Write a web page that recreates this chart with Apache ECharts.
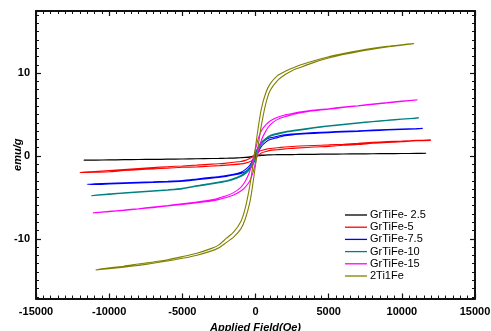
<!DOCTYPE html>
<html><head><meta charset="utf-8">
<script src="https://cdn.jsdelivr.net/npm/echarts@6/dist/echarts.min.js"></script>
<style>html,body{margin:0;padding:0;background:#fff}#c{width:491px;height:331px}</style>
</head><body><div id="c"></div>
<script>
// Field (Oe) grids, ascending; "up" = ascending branch, "down" = descending branch (emu/g)
const fieldBlack = [-11730,-11000,-10000,-9000,-8000,-7000,-6000,-5000,-4000,-3000,-2500,-2000,-1500,-1000,-700,-400,-200,0,200,400,700,1000,1500,2000,2500,3000,4000,5000,6000,7000,8000,9000,10000,11000,11660];
const upBlack   = [-0.52,-0.5,-0.47,-0.46,-0.43,-0.42,-0.39,-0.37,-0.34,-0.31,-0.3,-0.28,-0.26,-0.22,-0.19,-0.14,-0.08,-0.02,0.04,0.08,0.11,0.13,0.15,0.16,0.17,0.18,0.2,0.22,0.24,0.25,0.27,0.28,0.3,0.31,0.33];
const downBlack = [-0.5,-0.49,-0.46,-0.44,-0.42,-0.4,-0.38,-0.36,-0.33,-0.3,-0.29,-0.27,-0.24,-0.2,-0.16,-0.11,-0.04,0.02,0.07,0.1,0.12,0.14,0.16,0.17,0.18,0.19,0.21,0.23,0.24,0.26,0.27,0.29,0.3,0.32,0.34];

const fieldRed = [-12000,-11000,-10000,-9000,-8000,-7000,-6000,-5000,-4000,-3000,-2500,-2000,-1500,-1000,-700,-400,-200,0,200,400,700,1000,1500,2000,2500,3000,4000,5000,6000,7000,8000,9000,10000,11000,11980];
const upRed   = [-2.05,-1.97,-1.9,-1.76,-1.66,-1.55,-1.47,-1.36,-1.32,-1.21,-1.18,-1.1,-1.04,-0.95,-0.86,-0.7,-0.5,-0.2,0.1,0.35,0.55,0.68,0.76,0.86,0.92,0.98,1.08,1.16,1.3,1.38,1.53,1.63,1.73,1.84,1.88];
const downRed = [-2.0,-1.88,-1.76,-1.64,-1.52,-1.4,-1.29,-1.2,-1.1,-0.98,-0.94,-0.86,-0.76,-0.66,-0.53,-0.3,-0.1,0.2,0.5,0.66,0.8,0.9,1.0,1.08,1.15,1.2,1.27,1.34,1.42,1.52,1.64,1.73,1.8,1.88,1.92];

const fieldBlue = [-11500,-11000,-10000,-9000,-8000,-7000,-6000,-5000,-4000,-3000,-2500,-2000,-1500,-1000,-700,-400,-200,0,200,400,700,1000,1500,2000,2500,3000,4000,5000,6000,7000,8000,9000,10000,11000,11430];
const upBlue   = [-3.46,-3.44,-3.38,-3.32,-3.25,-3.2,-3.13,-3.04,-2.86,-2.68,-2.58,-2.47,-2.3,-2.1,-1.9,-1.5,-1.05,-0.35,0.5,1.15,1.68,1.98,2.22,2.44,2.55,2.62,2.73,2.82,2.9,2.97,3.05,3.13,3.2,3.27,3.31];
const downBlue = [-3.42,-3.37,-3.3,-3.24,-3.18,-3.12,-3.05,-2.95,-2.77,-2.58,-2.48,-2.36,-2.2,-1.95,-1.65,-1.15,-0.55,0.35,1.05,1.6,1.98,2.2,2.38,2.56,2.65,2.72,2.82,2.9,2.97,3.04,3.12,3.19,3.25,3.3,3.33];

const fieldTeal = [-11200,-10000,-9000,-8000,-7000,-6000,-5000,-4000,-3000,-2500,-2000,-1500,-1000,-700,-400,-200,0,200,400,700,1000,1500,2000,2500,3000,4000,5000,6000,7000,8000,9000,10000,11160];
const upTeal   = [-4.82,-4.63,-4.5,-4.38,-4.26,-4.13,-3.97,-3.66,-3.39,-3.23,-3.08,-2.84,-2.48,-2.15,-1.65,-1.1,-0.3,0.7,1.38,1.98,2.37,2.63,2.84,2.98,3.11,3.37,3.6,3.78,3.95,4.13,4.28,4.43,4.57];
const downTeal = [-4.78,-4.57,-4.44,-4.32,-4.2,-4.07,-3.9,-3.58,-3.31,-3.13,-2.98,-2.72,-2.35,-1.98,-1.38,-0.7,0.3,1.1,1.65,2.13,2.48,2.73,2.92,3.06,3.19,3.43,3.65,3.83,4.0,4.17,4.32,4.47,4.59];

const fieldMagenta = [-11100,-10000,-9000,-8000,-7000,-6000,-5000,-4000,-3000,-2500,-2000,-1500,-1000,-700,-400,-200,0,200,400,700,1000,1500,2000,2500,3000,4000,5000,6000,7000,8000,9000,10000,11070];
const upMagenta   = [-6.9,-6.72,-6.57,-6.4,-6.23,-6.03,-5.84,-5.65,-5.42,-5.24,-5.0,-4.7,-4.22,-3.75,-3.05,-2.15,-0.8,0.65,1.9,3.0,3.75,4.42,4.75,4.98,5.2,5.46,5.65,5.85,6.03,6.23,6.4,6.58,6.76];
const downMagenta = [-6.86,-6.68,-6.53,-6.36,-6.17,-5.97,-5.76,-5.55,-5.28,-5.06,-4.8,-4.42,-3.78,-3.05,-1.9,-0.65,0.8,2.15,3.05,3.75,4.22,4.68,4.95,5.12,5.3,5.54,5.71,5.91,6.07,6.27,6.44,6.62,6.78];

const fieldOlive = [-10910,-10000,-9000,-8000,-7000,-6000,-5000,-4000,-3000,-2500,-2000,-1500,-1000,-700,-400,-200,0,200,400,700,1000,1500,2000,2500,3000,4000,5000,6000,7000,8000,9000,10000,10840];
const upOlive   = [-13.78,-13.6,-13.42,-13.2,-12.95,-12.68,-12.35,-11.97,-11.45,-11.07,-10.45,-9.8,-8.8,-7.6,-5.7,-3.6,-1.1,1.4,3.7,6.3,7.9,9.1,9.8,10.3,10.65,11.3,11.82,12.24,12.6,12.9,13.16,13.37,13.55];
const downOlive = [-13.74,-13.5,-13.3,-13.04,-12.8,-12.52,-12.15,-11.73,-11.15,-10.73,-9.95,-9.2,-7.9,-6.3,-3.7,-1.4,1.1,3.6,5.7,7.6,8.7,9.7,10.2,10.6,10.95,11.5,11.98,12.36,12.7,13.0,13.24,13.43,13.58];

const seriesNames = ['GrTiFe- 2.5','GrTiFe-5','GrTiFe-7.5','GrTiFe-10','GrTiFe-15','2Ti1Fe'];
const seriesColors = ['#000000','#ff0000','#0000ff','#008080','#ff00ff','#808000'];
const xTicks = [-15000,-10000,-5000,0,5000,10000,15000];
const yTickLabels = [-10,0,10];

const samples = [
  [fieldBlack, upBlack, downBlack],
  [fieldRed, upRed, downRed],
  [fieldBlue, upBlue, downBlue],
  [fieldTeal, upTeal, downTeal],
  [fieldMagenta, upMagenta, downMagenta],
  [fieldOlive, upOlive, downOlive]
];

function loop(f, up, down) {
  const d = [];
  for (let i = f.length - 1; i >= 0; i--) d.push([f[i], down[i]]);
  for (let i = 0; i < f.length; i++) d.push([f[i], up[i]]);
  return d;
}

const chart = echarts.init(document.getElementById('c'), null, {renderer: 'canvas'});
const FONT = '"Liberation Sans", Arial, sans-serif';
const lineCol = '#111';
const yMin = -17.2, yMax = 17.5;
const gTop = 11, gBottom = 32.5;
const pxPerUnit = (331 - gTop - gBottom) / (yMax - yMin);
const zeroPx = gTop + yMax * pxPerUnit;

const hiddenX = (g) => ({gridIndex: g, type: 'value', min: -15000, max: 15000, show: false});
const gridAt = (top, bottom) => ({left: 36, right: 16, top: top, bottom: bottom, containLabel: false, outerBoundsMode: 'none'});

const option = {
  animation: false,
  backgroundColor: '#fff',
  grid: [
    gridAt(gTop, gBottom),
    gridAt(zeroPx - 17 * pxPerUnit, 331 - (zeroPx + 17 * pxPerUnit)),
    gridAt(zeroPx - 10 * pxPerUnit, 331 - (zeroPx + 10 * pxPerUnit))
  ],
  legend: {
    orient: 'vertical', left: 340, top: 204,
    icon: 'rect', itemWidth: 22, itemHeight: 1.3, itemGap: 0.2,
    textStyle: {fontFamily: FONT, fontSize: 11, color: '#000', lineHeight: 12, padding: [0,0,0,-2]},
    data: seriesNames
  },
  xAxis: [
    {gridIndex: 0, type: 'value', min: xTicks[0], max: xTicks[xTicks.length-1], interval: 5000, position: 'bottom',
     name: 'Applied Field(Oe)', nameLocation: 'middle', nameGap: 20,
     nameTextStyle: {fontFamily: FONT, fontSize: 11, fontWeight: 'bold', fontStyle: 'italic', color: '#000'},
     axisLine: {onZero: false, lineStyle: {color: lineCol, width: 2}},
     axisTick: {inside: true, length: 5, lineStyle: {color: lineCol, width: 1.2}},
     minorTick: {show: true, splitNumber: 10, length: 3, lineStyle: {color: lineCol, width: 1}},
     axisLabel: {margin: 8, fontFamily: FONT, fontSize: 11, fontWeight: 'bold', color: '#000',
                 formatter: v => String(v)},
     splitLine: {show: false}},
    {gridIndex: 0, type: 'value', min: -15000, max: 15000, interval: 5000, position: 'top',
     axisLine: {onZero: false, lineStyle: {color: lineCol, width: 2}},
     axisTick: {inside: true, length: 5, lineStyle: {color: lineCol, width: 1.2}},
     minorTick: {show: true, splitNumber: 10, length: 3, lineStyle: {color: lineCol, width: 1}},
     axisLabel: {show: false}, splitLine: {show: false}},
    hiddenX(1), hiddenX(2)
  ],
  yAxis: [
    {gridIndex: 0, type: 'value', min: yMin, max: yMax, position: 'left',
     name: 'emu/g', nameLocation: 'middle', nameGap: 13, nameRotate: 90,
     nameTextStyle: {fontFamily: FONT, fontSize: 11, fontWeight: 'bold', fontStyle: 'italic', color: '#000'},
     axisLine: {onZero: false, lineStyle: {color: lineCol, width: 2}},
     axisTick: {show: false}, axisLabel: {show: false}, splitLine: {show: false}},
    {gridIndex: 0, type: 'value', min: yMin, max: yMax, position: 'right',
     axisLine: {show: true, onZero: false, lineStyle: {color: lineCol, width: 2}},
     axisTick: {show: false}, axisLabel: {show: false}, splitLine: {show: false}},
    {gridIndex: 1, type: 'value', min: -17, max: 17, interval: 1, position: 'left',
     axisLine: {show: false, onZero: false},
     axisTick: {inside: true, length: 3, lineStyle: {color: lineCol, width: 1}},
     axisLabel: {margin: 6, fontFamily: FONT, fontSize: 11, fontWeight: 'bold', color: '#000',
                 formatter: v => (yTickLabels.indexOf(v) >= 0 ? String(v) : '')},
     splitLine: {show: false}},
    {gridIndex: 1, type: 'value', min: -17, max: 17, interval: 1, position: 'right',
     axisLine: {show: false, onZero: false},
     axisTick: {inside: true, length: 3, lineStyle: {color: lineCol, width: 1}},
     axisLabel: {show: false}, splitLine: {show: false}},
    {gridIndex: 2, type: 'value', min: -10, max: 10, interval: 10, position: 'left',
     axisLine: {show: false, onZero: false},
     axisTick: {inside: true, length: 5, lineStyle: {color: lineCol, width: 1.2}},
     axisLabel: {show: false}, splitLine: {show: false}},
    {gridIndex: 2, type: 'value', min: -10, max: 10, interval: 10, position: 'right',
     axisLine: {show: false, onZero: false},
     axisTick: {inside: true, length: 5, lineStyle: {color: lineCol, width: 1.2}},
     axisLabel: {show: false}, splitLine: {show: false}}
  ],
  series: samples.map((s, i) => ({
    name: seriesNames[i], type: 'line', xAxisIndex: 0, yAxisIndex: 0,
    data: loop(s[0], s[1], s[2]),
    showSymbol: false, smooth: 0.25,
    color: seriesColors[i],
    lineStyle: {width: 1.1, color: seriesColors[i]},
    z: 2 + i
  }))
};
chart.setOption(option);
</script></body></html>
